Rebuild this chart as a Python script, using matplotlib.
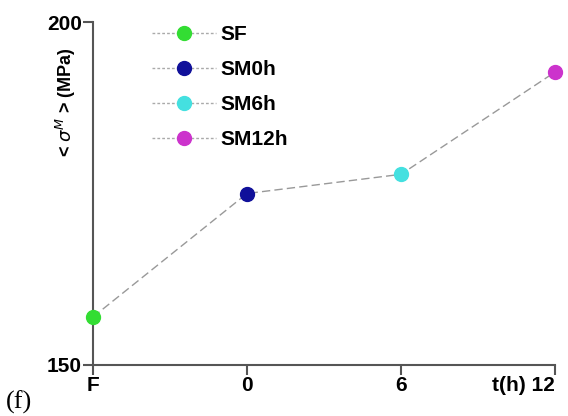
import matplotlib
matplotlib.use("Agg")
import matplotlib.pyplot as plt
from matplotlib.transforms import ScaledTranslation

samples = ["SF", "SM0h", "SM6h", "SM12h"]
x_pos = [0, 1, 2, 3]
stress = [157.0, 175.0, 177.8, 192.7]
colors = ["#33dd33", "#10109a", "#44e0e0", "#cc33cc"]
xtick_labels = ["F", "0", "6", "t(h) 12"]
ytick_vals = [150, 200]

plt.rcParams['font.family'] = ['Liberation Sans', 'DejaVu Sans']
fig = plt.figure(figsize=(5.68, 4.16), dpi=100)
ax = fig.add_axes([0.1637, 0.1226, 0.8133, 0.8244])

ax.plot(x_pos, stress, ls=(0, (6, 3)), color="#999999", lw=1.0, zorder=1, clip_on=False)
for xp, v, c, lab in zip(x_pos, stress, colors, samples):
    ax.plot([xp], [v], marker='o', ls=(0, (2, 1.5)), color="#aaaaaa", lw=1.0, mfc=c, mec=c,
            markersize=10, label=lab, zorder=3, clip_on=False)

ax.set_xlim(0, 3)
ax.set_ylim(150, 200)
ax.set_xticks(x_pos)
ax.set_xticklabels(xtick_labels, fontsize=15, fontweight='bold')
ax.set_yticks(ytick_vals)
ax.set_yticklabels([str(v) for v in ytick_vals], fontsize=15, fontweight='bold')
last = ax.get_xticklabels()[-1]
last.set_horizontalalignment('right')
last.set_transform(last.get_transform() + ScaledTranslation(0.12, 0, fig.dpi_scale_trans))
for s in ['top', 'right']:
    ax.spines[s].set_visible(False)
for s in ['left', 'bottom']:
    ax.spines[s].set_color("#555555")
    ax.spines[s].set_linewidth(1.5)
ax.tick_params(direction='out', length=7, width=1.5, color="#555555", pad=1)
ax.set_ylabel(r'< $\sigma^{M}$ > (MPa)', fontsize=13, fontweight='bold')
ax.yaxis.set_label_coords(-0.032, 0.767)

leg = ax.legend(loc='upper left', bbox_to_anchor=(0.249, 0.965), bbox_transform=fig.transFigure,
                frameon=False, handlelength=3.1, handletextpad=0.2, labelspacing=0.77,
                borderpad=0, prop={'size': 15, 'weight': 'bold'})

fig.text(0.01, 0.018, "(f)", fontsize=19, family=['Liberation Serif', 'DejaVu Serif'])

fig.savefig("out.png", dpi=100)
